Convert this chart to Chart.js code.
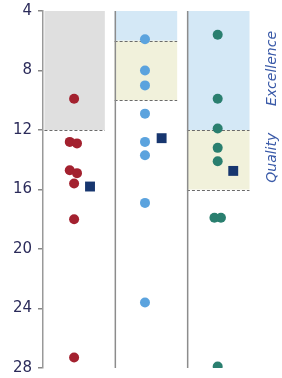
<!DOCTYPE html>
<html>
<head>
<meta charset="utf-8">
<script src="https://cdn.jsdelivr.net/npm/chart.js@4"></script>
<style>
  html, body { margin: 0; padding: 0; background: #fff; }
  #wrap { width: 282px; height: 378px; }
</style>
</head>
<body>
<div id="wrap"><canvas id="c"></canvas></div>
<script>
  // one panel per group, x = panel index + offset inside the panel
  const yTicks = [4, 8, 12, 16, 20, 24, 28];

  const redX = [0.43, 0.37, 0.47, 0.37, 0.47, 0.43, 0.43, 0.43];
  const redY = [9.9, 12.8, 12.9, 14.7, 14.9, 15.6, 18.0, 27.3];
  const blueX = [1.41, 1.41, 1.41, 1.41, 1.41, 1.41, 1.41, 1.41];
  const blueY = [5.9, 8.0, 9.0, 10.9, 12.8, 13.7, 16.9, 23.6];
  const tealX = [2.415, 2.415, 2.415, 2.415, 2.415, 2.37, 2.46, 2.415];
  const tealY = [5.6, 9.9, 11.9, 13.2, 14.1, 17.9, 17.9, 27.9];
  const meanX = [0.65, 1.64, 2.63];
  const meanY = [15.8, 12.55, 14.75];

  // shaded ranges per panel (null = none)
  const greyRange = [[4, 12], null, null];
  const excellenceRange = [null, [4, 6], [4, 12]];
  const qualityRange = [null, [6, 10], [12, 16]];
  const sideLabels = ["Excellence", "Quality"];

  const pts = (xs, ys) => xs.map((x, i) => ({ x, y: ys[i] }));

  const bandsPlugin = {
    id: "bands",
    beforeDatasetsDraw(chart) {
      const { ctx, chartArea: a, scales: { x, y } } = chart;
      ctx.save();
      const fills = [
        [greyRange, "#dfdfdf"],
        [excellenceRange, "#d4e8f6"],
        [qualityRange, "#f1f1db"],
      ];
      const dashes = [];
      for (const [ranges, color] of fills) {
        ranges.forEach((r, p) => {
          if (!r) return;
          const x0 = x.getPixelForValue(p === 0 ? 0.02 : p - 0.01);
          const x1 = x.getPixelForValue(p + 0.855);
          const y0 = y.getPixelForValue(r[0]);
          const y1 = y.getPixelForValue(r[1]);
          ctx.fillStyle = color;
          ctx.fillRect(x0, y0, x1 - x0, y1 - y0);
          dashes.push([x0, x1, y1]);
        });
      }
      ctx.strokeStyle = "#6b6b6b";
      ctx.lineWidth = 1;
      ctx.setLineDash([3, 2]);
      for (const [x0, x1, yy] of dashes) {
        ctx.beginPath();
        ctx.moveTo(x0, Math.round(yy) + 0.5);
        ctx.lineTo(x1, Math.round(yy) + 0.5);
        ctx.stroke();
      }
      ctx.setLineDash([]);
      // panel separators
      ctx.strokeStyle = "#8c8c8c";
      ctx.lineWidth = 1.5;
      for (const v of [1, 2]) {
        const px = x.getPixelForValue(v);
        ctx.beginPath();
        ctx.moveTo(px, a.top);
        ctx.lineTo(px, a.bottom);
        ctx.stroke();
      }
      ctx.restore();
    },
    afterDraw(chart) {
      const { ctx, chartArea: a, scales: { y } } = chart;
      const r = [excellenceRange[2], qualityRange[2]];
      ctx.save();
      ctx.fillStyle = "#3a5aa8";
      ctx.font = "italic 14px 'DejaVu Sans'";
      ctx.textAlign = "center";
      ctx.textBaseline = "middle";
      sideLabels.forEach((t, i) => {
        const cy = y.getPixelForValue((r[i][0] + r[i][1]) / 2) - 2;
        ctx.save();
        ctx.translate(a.right + 12, cy);
        ctx.rotate(-Math.PI / 2);
        ctx.fillText(t, 0, 0);
        ctx.restore();
      });
      ctx.restore();
    },
  };

  new Chart(document.getElementById("c"), {
    type: "scatter",
    data: {
      datasets: [
        { data: pts(redX, redY), backgroundColor: "#a3212f", borderWidth: 0, pointRadius: 5, order: 2 },
        { data: pts(blueX, blueY), backgroundColor: "#5ba3de", borderWidth: 0, pointRadius: 5, order: 2 },
        { data: pts(tealX, tealY), backgroundColor: "#2a7f6f", borderWidth: 0, pointRadius: 5, order: 2 },
        { data: pts(meanX, meanY), backgroundColor: "#17366f", borderWidth: 0, pointStyle: "rect", pointRadius: 7, order: 1 },
      ],
    },
    options: {
      animation: false,
      responsive: true,
      maintainAspectRatio: false,
      layout: { padding: { top: 11, right: 22, bottom: 10, left: 0 } },
      plugins: { legend: { display: false }, tooltip: { enabled: false } },
      scales: {
        x: { type: "linear", min: 0, max: 3, display: false },
        y: {
          reverse: true,
          min: yTicks[0],
          max: yTicks[yTicks.length - 1],
          afterBuildTicks: (s) => { s.ticks = yTicks.map(v => ({ value: v })); },
          afterFit: (s) => { s.width = 43; s.paddingTop = 0; s.paddingBottom = 0; },
          ticks: { color: "#2b2b5a", font: { family: "DejaVu Sans", size: 15 }, padding: 6 },
          grid: { drawOnChartArea: false, drawTicks: true, tickLength: 5, color: "#888", lineWidth: 1.5 },
          border: { display: true, color: "#999", width: 1.5 },
        },
      },
    },
    plugins: [bandsPlugin],
  });
</script>
</body>
</html>
